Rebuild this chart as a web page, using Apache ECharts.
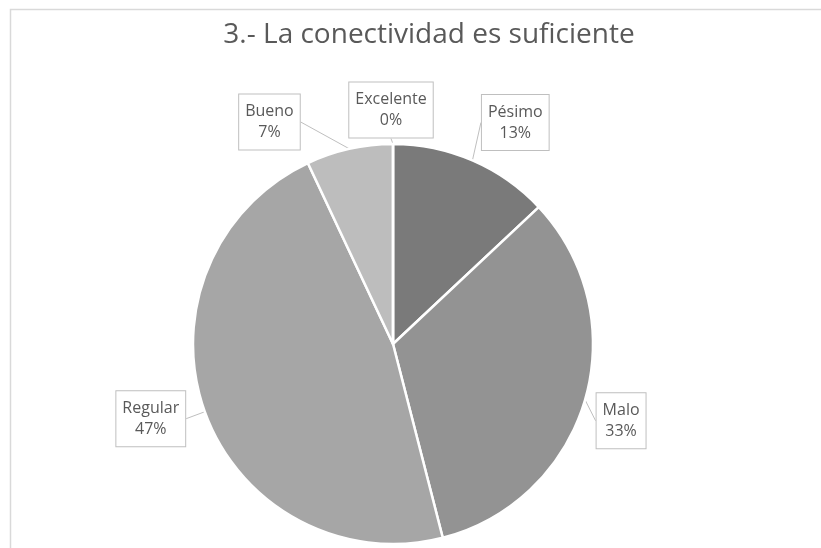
<!DOCTYPE html>
<html>
<head>
<meta charset="utf-8">
<script src="https://cdn.jsdelivr.net/npm/echarts@6/dist/echarts.min.js"></script>
<style>
  html, body { margin: 0; padding: 0; background: #fff; }
  #main { width: 821px; height: 548px; }
</style>
</head>
<body>
<div id="main"></div>
<script>
// valores (porcentajes)
const categories = ['Pésimo', 'Malo', 'Regular', 'Bueno', 'Excelente'];
const values = [13, 33, 47, 7, 0];
const colors = ['#7a7a7a', '#939393', '#a6a6a6', '#bdbdbd', '#d9d9d9'];
// ajuste de las etiquetas (como el "mejor ajuste" de Excel)
const labelShift = [[23, 8], [-12, 7], [-7, -10], [-69, 22], [-2, 16]];

const chart = echarts.init(document.getElementById('main'));

const option = {
  backgroundColor: '#fff',
  animation: false,
  title: {
    text: '3.- La conectividad es suficiente',
    left: 424,
    top: 16,
    textAlign: 'center',
    textStyle: {
      fontFamily: 'Open Sans',
      fontWeight: 'normal',
      fontSize: 28,
      color: '#595959'
    }
  },
  graphic: [{
    type: 'polyline',
    shape: { points: [[10.5, 548], [10.5, 9.5], [821, 9.5]] },
    style: { stroke: '#d9d9d9', lineWidth: 1.5, fill: null },
    silent: true
  }],
  series: [{
    type: 'pie',
    center: [393, 344],
    radius: 200,
    startAngle: 90,
    clockwise: true,
    avoidLabelOverlap: false,
    data: categories.map((name, i) => ({
      name: name,
      value: values[i],
      itemStyle: { color: colors[i] }
    })),
    itemStyle: { borderColor: '#fff', borderWidth: 2.5 },
    label: {
      show: true,
      position: 'outside',
      formatter: '{b}\n{c}%',
      fontFamily: 'Open Sans',
      fontSize: 16,
      lineHeight: 21,
      color: '#595959',
      backgroundColor: '#fff',
      borderColor: '#bfbfbf',
      borderWidth: 1,
      padding: [7, 6, 6, 6],
      distanceToLabelLine: 0
    },
    labelLine: {
      show: true,
      length: 50,
      length2: 0,
      lineStyle: { color: '#bfbfbf', width: 1 }
    },
    labelLayout: function (params) {
      const pts = params.labelLinePoints;
      const s = labelShift[params.dataIndex] || [0, 0];
      if (!pts) {
        return { align: 'center', verticalAlign: 'middle' };
      }
      const end = pts[pts.length - 1];
      return {
        x: end[0] + s[0],
        y: end[1] + s[1],
        align: 'center',
        verticalAlign: 'middle'
      };
    }
  }]
};

chart.setOption(option);
</script>
</body>
</html>
